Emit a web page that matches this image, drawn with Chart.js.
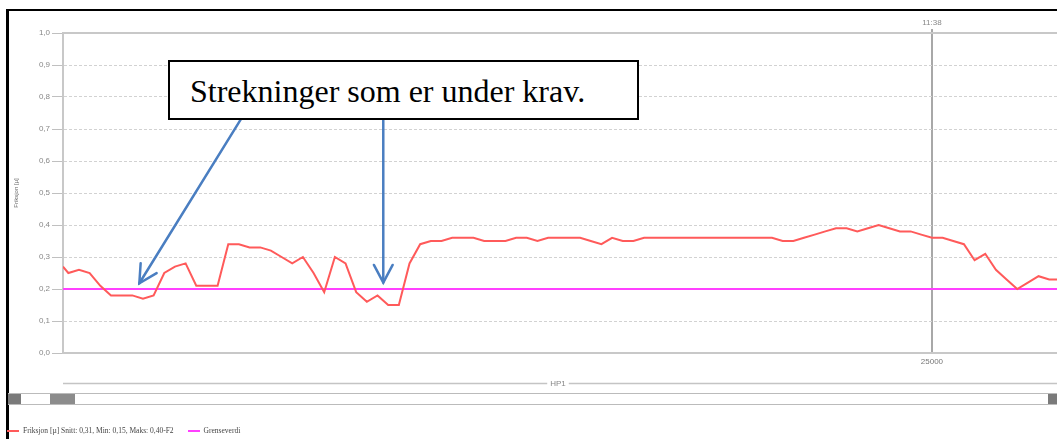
<!DOCTYPE html>
<html>
<head>
<meta charset="utf-8">
<script src="https://cdn.jsdelivr.net/npm/chart.js@4"></script>
<style>
  html, body { margin: 0; padding: 0; background: #fff; }
  body { width: 1057px; height: 439px; overflow: hidden; position: relative; }
  #chart { position: absolute; left: 0; top: 0; }
  #frame { position: absolute; left: 6px; top: 9px; right: -10px; bottom: -10px;
           border-left: 3px solid #000; border-top: 2px solid #000; pointer-events: none; }
  #note { position: absolute; left: 168px; top: 60px; width: 471px; height: 60px; box-sizing: border-box;
          border: 2px solid #000; background: #fff; }
  #note span { position: absolute; left: 20px; top: 13px; font-family: 'Liberation Serif', serif;
               font-size: 32px; line-height: 32px; color: #000; white-space: nowrap; }
  #scroll { position: absolute; left: 8px; top: 393px; width: 1049px; height: 12px; box-sizing: border-box;
            border-top: 1px solid #bbb; border-bottom: 1px solid #bbb; background: #fff; }
  .btn { position: absolute; top: 0; width: 13px; height: 10px; background: #7a7a7a; }
  .btn.left { left: 0; }
  .btn.right { right: 0; width: 9px; }
  .thumb { position: absolute; left: 42px; top: 0; width: 25px; height: 10px; background: #8c8c8c; }
  #legend { position: absolute; left: 7px; top: 426px; font-family: 'Liberation Serif', serif; font-size: 7.5px;
            color: #444; white-space: nowrap; }
  #legend .sw { display: inline-block; width: 12px; height: 2px; vertical-align: middle; margin-right: 4px; }
</style>
</head>
<body>
<canvas id="chart" width="1057" height="439"></canvas>
<div id="frame"></div>
<div id="note"><span>Strekninger som er under krav.</span></div>
<div id="scroll"><div class="btn left"></div><div class="thumb"></div><div class="btn right"></div></div>
<div id="legend"></div>
<script>
// profil (m) og friksjon
const chainage = [
  16850, 16900, 17000, 17100, 17200, 17300, 17400, 17500, 17600, 17700,
  17800, 17900, 18000, 18100, 18200, 18300, 18400, 18500, 18600, 18700,
  18800, 18900, 19000, 19100, 19200, 19300, 19400, 19500, 19600, 19700,
  19800, 19900, 20000, 20100, 20200, 20300, 20400, 20500, 20600, 20700,
  20800, 20900, 21000, 21100, 21200, 21300, 21400, 21500, 21600, 21700,
  21800, 21900, 22000, 22100, 22200, 22300, 22400, 22500, 22600, 22700,
  22800, 22900, 23000, 23100, 23200, 23300, 23400, 23500, 23600, 23700,
  23800, 23900, 24000, 24100, 24200, 24300, 24400, 24500, 24600, 24700,
  24800, 24900, 25000, 25100, 25200, 25300, 25400, 25500, 25600, 25700,
  25800, 25900, 26000, 26100, 26200
];
const friksjon = [
  0.27, 0.25, 0.26, 0.25, 0.21, 0.18, 0.18, 0.18, 0.17, 0.18,
  0.25, 0.27, 0.28, 0.21, 0.21, 0.21, 0.34, 0.34, 0.33, 0.33,
  0.32, 0.30, 0.28, 0.30, 0.25, 0.19, 0.30, 0.28, 0.19, 0.16,
  0.18, 0.15, 0.15, 0.28, 0.34, 0.35, 0.35, 0.36, 0.36, 0.36,
  0.35, 0.35, 0.35, 0.36, 0.36, 0.35, 0.36, 0.36, 0.36, 0.36,
  0.35, 0.34, 0.36, 0.35, 0.35, 0.36, 0.36, 0.36, 0.36, 0.36,
  0.36, 0.36, 0.36, 0.36, 0.36, 0.36, 0.36, 0.36, 0.35, 0.35,
  0.36, 0.37, 0.38, 0.39, 0.39, 0.38, 0.39, 0.40, 0.39, 0.38,
  0.38, 0.37, 0.36, 0.36, 0.35, 0.34, 0.29, 0.31, 0.26, 0.23,
  0.20, 0.22, 0.24, 0.23, 0.23
];
const grenseverdi = 0.2;
const yTicks = [0, 0.1, 0.2, 0.3, 0.4, 0.5, 0.6, 0.7, 0.8, 0.9, 1.0];
const xTick = 25000;
const xTickTime = '11:38';
const xMin = 16850;
const xMax = 26173;
const axisName = 'HP1';

const seriesName = 'Friksjon [µ] Snitt: 0,31, Min: 0,15, Maks: 0,40-F2';
const limitName = 'Grenseverdi';
const noteText = 'Strekninger som er under krav.';

// piler fra tekstboksen ned til strekningene (i dataenheter)
const arrowNotes = [
  { from: [18519, 0.731], to: [17566, 0.218] },
  { from: [19854, 0.731], to: [19854, 0.22] }
];

const redLine = '#ff5a5a';
const magenta = '#ff40ff';

const points = chainage.map((x, i) => ({ x: x, y: friksjon[i] }));
const limitPoints = [{ x: chainage[0], y: grenseverdi }, { x: chainage[chainage.length - 1], y: grenseverdi }];

document.querySelector('#note span').textContent = noteText;
document.getElementById('legend').innerHTML =
  '<span class="sw" style="background:' + redLine + '"></span>' + seriesName +
  '<span style="display:inline-block;width:14px"></span>' +
  '<span class="sw" style="background:' + magenta + '"></span>' + limitName;

const fmt = (v) => v.toFixed(1).replace('.', ',');

const overlay = {
  id: 'overlay',
  afterDatasetsDraw(chart) {
    const ctx = chart.ctx;
    const xs = chart.scales.x, ys = chart.scales.y;
    ctx.save();
    ctx.strokeStyle = 'rgb(74,126,193)';
    ctx.lineWidth = 2.5;
    ctx.lineCap = 'round';
    arrowNotes.forEach((a) => {
      const x1 = xs.getPixelForValue(a.from[0]), y1 = ys.getPixelForValue(a.from[1]);
      const x2 = xs.getPixelForValue(a.to[0]), y2 = ys.getPixelForValue(a.to[1]);
      ctx.beginPath();
      ctx.moveTo(x1, y1);
      ctx.lineTo(x2, y2);
      ctx.stroke();
      const ang = Math.atan2(y1 - y2, x1 - x2);
      const len = 20, spread = 28 * Math.PI / 180;
      ctx.beginPath();
      ctx.moveTo(x2 + len * Math.cos(ang - spread), y2 + len * Math.sin(ang - spread));
      ctx.lineTo(x2, y2);
      ctx.lineTo(x2 + len * Math.cos(ang + spread), y2 + len * Math.sin(ang + spread));
      ctx.stroke();
    });
    ctx.restore();
  },
  afterDraw(chart) {
    // linje med aksenavn under x-aksen
    const ctx = chart.ctx;
    const area = chart.chartArea;
    const y = 383.5;
    const mid = (area.left + chart.width) / 2 - 2;
    ctx.save();
    ctx.font = '8px "Liberation Sans"';
    const w = ctx.measureText(axisName).width;
    ctx.strokeStyle = '#c4c4c4';
    ctx.lineWidth = 1.5;
    ctx.beginPath();
    ctx.moveTo(area.left, y);
    ctx.lineTo(mid - w / 2 - 3, y);
    ctx.moveTo(mid + w / 2 + 3, y);
    ctx.lineTo(chart.width, y);
    ctx.stroke();
    ctx.fillStyle = '#888';
    ctx.textAlign = 'center';
    ctx.textBaseline = 'middle';
    ctx.fillText(axisName, mid, y);
    ctx.restore();
  }
};

Chart.defaults.font.family = '"Liberation Sans", Arial, sans-serif';

new Chart(document.getElementById('chart'), {
  type: 'line',
  data: {
    datasets: [
      { label: seriesName, data: points, borderColor: redLine, borderWidth: 2, pointRadius: 0, tension: 0 },
      { label: limitName, data: limitPoints, borderColor: magenta, borderWidth: 2, pointRadius: 0 }
    ]
  },
  options: {
    responsive: false,
    devicePixelRatio: 1,
    animation: false,
    layout: { padding: { left: 10, top: 12, right: 0, bottom: 0 } },
    plugins: { legend: { display: false }, tooltip: { enabled: false } },
    scales: {
      x: {
        type: 'linear',
        position: 'bottom',
        min: xMin,
        max: xMax,
        afterBuildTicks: (axis) => { axis.ticks = [{ value: xTick }]; },
        afterFit: (axis) => { axis.height = 86; },
        ticks: { color: '#777', font: { size: 8 }, padding: 4, maxRotation: 0, callback: (v) => String(v) },
        grid: { color: '#a8a8a8', lineWidth: 2, drawTicks: false },
        border: { color: '#c8c8c8', width: 2 }
      },
      x2: {
        type: 'linear',
        position: 'top',
        min: xMin,
        max: xMax,
        afterBuildTicks: (axis) => { axis.ticks = [{ value: xTick }]; },
        afterFit: (axis) => { axis.height = 21; },
        ticks: { color: '#888', font: { size: 8 }, padding: 1, maxRotation: 0, callback: () => xTickTime },
        grid: { drawOnChartArea: false, tickLength: 4, color: '#a8a8a8', lineWidth: 2 },
        border: { color: '#c8c8c8', width: 2 }
      },
      y: {
        min: 0,
        max: 1,
        afterBuildTicks: (axis) => { axis.ticks = yTicks.map((v) => ({ value: v })); },
        afterFit: (axis) => { axis.width = 53; },
        ticks: { color: '#888', font: { size: 8 }, padding: 2, callback: (v) => fmt(v) },
        grid: { color: '#d2d2d2', lineWidth: 1, tickLength: 11, tickColor: '#c0c0c0', tickWidth: 1 },
        border: { color: '#c8c8c8', width: 2, dash: [3, 2] },
        title: { display: true, text: 'Friksjon [µ]', color: '#666', font: { size: 6 }, padding: { top: 3, bottom: 0 } }
      }
    }
  },
  plugins: [overlay]
});
</script>
</body>
</html>
